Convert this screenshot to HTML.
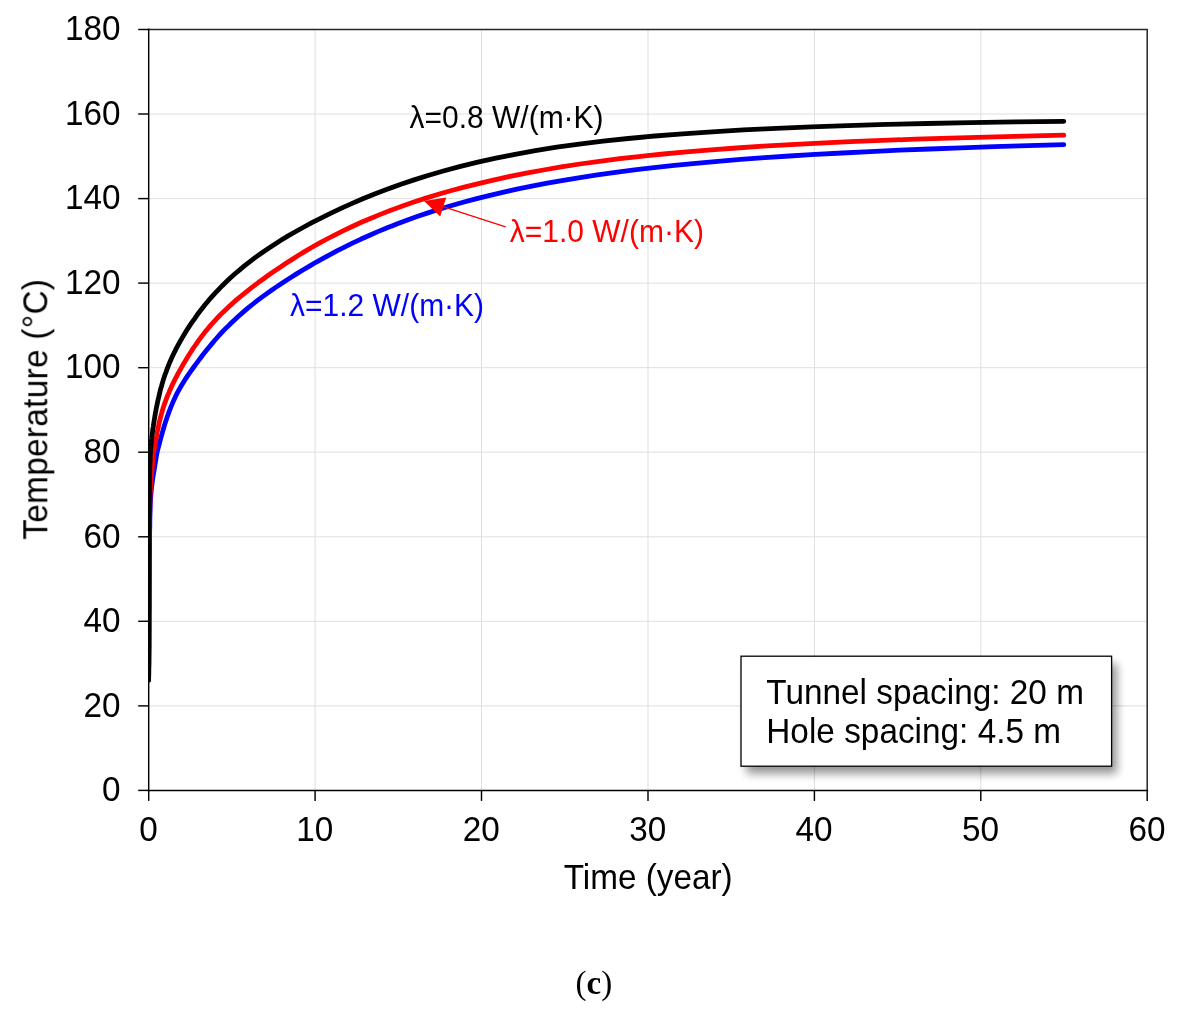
<!DOCTYPE html>
<html><head><meta charset="utf-8"><title>chart</title>
<style>
html,body{margin:0;padding:0;background:#fff;}
svg{display:block;}
text{font-family:"Liberation Sans",sans-serif;}
.t{font-size:33.3px;fill:#000;}
.l{font-size:30px;}
.cap{font-family:"Liberation Serif",serif;font-size:33px;fill:#000;}
</style></head><body>
<svg width="1187" height="1010" viewBox="0 0 1187 1010">
<defs><clipPath id="cp"><rect x="147.95" y="20" width="1010" height="780"/></clipPath><filter id="sh" x="-10%" y="-30%" width="120%" height="160%"><feGaussianBlur stdDeviation="5"/></filter></defs>
<rect width="1187" height="1010" fill="#fff"/>
<g opacity="0.999">
<g stroke="#dfdfdf" stroke-width="1" fill="none">
<line x1="148.7" x2="1147.2" y1="705.9" y2="705.9"/>
<line x1="148.7" x2="1147.2" y1="621.3" y2="621.3"/>
<line x1="148.7" x2="1147.2" y1="536.8" y2="536.8"/>
<line x1="148.7" x2="1147.2" y1="452.2" y2="452.2"/>
<line x1="148.7" x2="1147.2" y1="367.7" y2="367.7"/>
<line x1="148.7" x2="1147.2" y1="283.1" y2="283.1"/>
<line x1="148.7" x2="1147.2" y1="198.6" y2="198.6"/>
<line x1="148.7" x2="1147.2" y1="114.0" y2="114.0"/>
<line y1="29.5" y2="790.4" x1="315.1" x2="315.1"/>
<line y1="29.5" y2="790.4" x1="481.5" x2="481.5"/>
<line y1="29.5" y2="790.4" x1="648.0" x2="648.0"/>
<line y1="29.5" y2="790.4" x1="814.4" x2="814.4"/>
<line y1="29.5" y2="790.4" x1="980.8" x2="980.8"/>
</g>
<path d="M148.7 29.5 H1147.2 V790.4" stroke="#262626" stroke-width="1.5" fill="none"/>
<g stroke="#000" stroke-width="1.45" fill="none">
<line x1="148.7" x2="148.7" y1="28.5" y2="791.4"/>
<line x1="147.7" x2="1148.2" y1="790.4" y2="790.4"/>
<line x1="138.2" x2="148.7" y1="790.4" y2="790.4"/>
<line x1="138.2" x2="148.7" y1="705.9" y2="705.9"/>
<line x1="138.2" x2="148.7" y1="621.3" y2="621.3"/>
<line x1="138.2" x2="148.7" y1="536.8" y2="536.8"/>
<line x1="138.2" x2="148.7" y1="452.2" y2="452.2"/>
<line x1="138.2" x2="148.7" y1="367.7" y2="367.7"/>
<line x1="138.2" x2="148.7" y1="283.1" y2="283.1"/>
<line x1="138.2" x2="148.7" y1="198.6" y2="198.6"/>
<line x1="138.2" x2="148.7" y1="114.0" y2="114.0"/>
<line x1="138.2" x2="148.7" y1="29.5" y2="29.5"/>
<line y1="790.4" y2="800.9" x1="148.7" x2="148.7"/>
<line y1="790.4" y2="800.9" x1="315.1" x2="315.1"/>
<line y1="790.4" y2="800.9" x1="481.5" x2="481.5"/>
<line y1="790.4" y2="800.9" x1="648.0" x2="648.0"/>
<line y1="790.4" y2="800.9" x1="814.4" x2="814.4"/>
<line y1="790.4" y2="800.9" x1="980.8" x2="980.8"/>
<line y1="790.4" y2="800.9" x1="1147.2" x2="1147.2"/>
</g>
<text class="t" transform="translate(120.5 801.1) scale(1 1.035)" text-anchor="end">0</text>
<text class="t" transform="translate(120.5 716.6) scale(1 1.035)" text-anchor="end">20</text>
<text class="t" transform="translate(120.5 632.0) scale(1 1.035)" text-anchor="end">40</text>
<text class="t" transform="translate(120.5 547.5) scale(1 1.035)" text-anchor="end">60</text>
<text class="t" transform="translate(120.5 462.9) scale(1 1.035)" text-anchor="end">80</text>
<text class="t" transform="translate(120.5 378.4) scale(1 1.035)" text-anchor="end">100</text>
<text class="t" transform="translate(120.5 293.8) scale(1 1.035)" text-anchor="end">120</text>
<text class="t" transform="translate(120.5 209.3) scale(1 1.035)" text-anchor="end">140</text>
<text class="t" transform="translate(120.5 124.7) scale(1 1.035)" text-anchor="end">160</text>
<text class="t" transform="translate(120.5 40.2) scale(1 1.035)" text-anchor="end">180</text>
<text class="t" transform="translate(148.4 841) scale(1 1.035)" text-anchor="middle">0</text>
<text class="t" transform="translate(314.8 841) scale(1 1.035)" text-anchor="middle">10</text>
<text class="t" transform="translate(481.2 841) scale(1 1.035)" text-anchor="middle">20</text>
<text class="t" transform="translate(647.7 841) scale(1 1.035)" text-anchor="middle">30</text>
<text class="t" transform="translate(814.1 841) scale(1 1.035)" text-anchor="middle">40</text>
<text class="t" transform="translate(980.5 841) scale(1 1.035)" text-anchor="middle">50</text>
<text class="t" transform="translate(1146.9 841) scale(1 1.035)" text-anchor="middle">60</text>
<text class="t" transform="translate(648.2 889.2) scale(1 1.035)" text-anchor="middle">Time (year)</text>
<text class="t" transform="translate(47.4 409.2) rotate(-90) scale(1 1.035)" text-anchor="middle" letter-spacing="0.33">Temperature (°C)</text>
<polyline clip-path="url(#cp)" points="148.6,680.3 148.7,676.4 148.7,672.6 148.7,668.7 148.8,664.8 148.8,661.0 148.9,657.1 148.9,653.2 148.9,649.4 149.0,645.5 149.0,641.7 149.0,637.8 149.0,633.9 149.1,630.1 149.1,626.2 149.1,622.3 149.1,618.5 149.1,614.6 149.2,610.7 149.2,606.9 149.2,603.0 149.2,599.1 149.2,595.3 149.2,591.4 149.2,587.6 149.3,583.7 149.3,579.8 149.3,576.0 149.3,572.1 149.4,568.2 149.4,564.4 149.4,560.5 149.4,556.6 149.5,552.8 149.5,548.9 149.5,545.0 149.6,541.2 149.6,537.3 149.6,533.5 149.7,529.6 149.8,525.7 149.8,521.9 149.9,518.0 150.0,514.1 150.1,510.3 150.2,506.4 150.4,502.5 150.6,498.7 150.9,494.8 151.2,490.9 151.6,487.1 152.1,483.2 152.6,479.4 153.2,475.5 153.9,471.6 154.5,467.8 155.1,463.9 155.8,460.0 156.4,456.2 157.1,452.3 157.4,450.9 157.8,449.5 158.2,448.0 158.6,446.4 159.1,444.8 159.5,443.1 159.9,441.4 160.4,439.6 160.9,437.7 161.4,435.9 162.0,433.9 162.5,432.0 163.1,430.0 163.7,428.0 164.3,425.9 164.9,423.9 165.6,421.8 166.3,419.7 167.0,417.6 167.7,415.5 168.5,413.4 169.2,411.3 170.1,409.1 170.9,407.0 171.8,404.9 172.7,402.7 173.6,400.6 174.6,398.4 175.6,396.3 176.6,394.2 177.7,392.1 178.9,390.0 180.1,387.9 181.3,385.8 182.6,383.6 183.9,381.5 185.3,379.3 186.7,377.1 188.2,374.9 189.8,372.7 191.4,370.4 193.1,368.0 194.8,365.6 196.7,363.1 198.5,360.6 200.5,358.0 202.5,355.3 204.7,352.6 206.9,349.8 209.2,347.0 211.6,344.1 214.0,341.2 216.6,338.2 219.3,335.2 222.1,332.2 225.0,329.2 228.1,326.1 231.2,323.0 234.5,319.9 237.9,316.7 241.5,313.6 245.2,310.4 249.0,307.2 253.0,304.0 257.2,300.7 261.6,297.4 266.1,294.1 270.8,290.8 275.7,287.4 280.8,283.9 286.1,280.5 291.6,277.0 297.3,273.4 303.3,269.8 309.5,266.1 315.9,262.3 322.6,258.6 329.6,254.8 336.9,250.9 344.5,247.1 352.4,243.2 360.6,239.3 369.1,235.5 377.9,231.6 387.2,227.8 396.8,224.0 406.8,220.2 417.1,216.5 428.0,212.9 439.2,209.3 450.9,205.8 463.1,202.3 475.8,198.9 488.9,195.6 502.7,192.4 516.9,189.2 531.8,186.2 547.2,183.2 563.3,180.3 580.0,177.6 597.4,174.9 615.5,172.3 634.4,169.9 654.0,167.6 674.4,165.4 695.6,163.3 717.7,161.3 740.6,159.4 764.6,157.7 789.4,156.0 815.3,154.4 842.2,153.0 870.2,151.6 899.4,150.2 929.7,149.0 961.3,147.8 994.1,146.7 1028.3,145.7 1063.8,144.7" fill="none" stroke="#0000ff" stroke-width="4.8" stroke-linecap="round" stroke-linejoin="round"/>
<polyline clip-path="url(#cp)" points="148.6,680.3 148.6,676.4 148.7,672.6 148.7,668.7 148.8,664.8 148.8,661.0 148.8,657.1 148.9,653.2 148.9,649.4 148.9,645.5 148.9,641.7 149.0,637.8 149.0,633.9 149.0,630.1 149.0,626.2 149.0,622.3 149.1,618.5 149.1,614.6 149.1,610.7 149.1,606.9 149.1,603.0 149.1,599.1 149.1,595.3 149.2,591.4 149.2,587.6 149.2,583.7 149.2,579.8 149.2,576.0 149.2,572.1 149.2,568.2 149.3,564.4 149.3,560.5 149.3,556.6 149.3,552.8 149.3,548.9 149.3,545.0 149.4,541.2 149.4,537.3 149.4,533.5 149.5,529.6 149.5,525.7 149.5,521.9 149.6,518.0 149.6,514.1 149.7,510.3 149.8,506.4 149.9,502.6 150.0,498.7 150.1,494.8 150.3,491.0 150.5,487.1 150.8,483.2 151.1,479.4 151.4,475.5 151.8,471.6 152.2,467.8 152.6,463.9 152.9,460.0 153.3,456.2 153.6,452.3 153.8,451.3 154.1,450.2 154.3,448.8 154.6,447.4 154.9,445.7 155.2,444.0 155.5,442.1 155.8,440.2 156.2,438.2 156.6,436.1 156.9,434.0 157.3,431.9 157.7,429.7 158.2,427.6 158.6,425.5 159.1,423.4 159.5,421.3 160.0,419.3 160.5,417.3 161.1,415.3 161.6,413.4 162.1,411.4 162.7,409.5 163.3,407.5 163.9,405.6 164.6,403.7 165.3,401.8 166.0,399.8 166.7,397.9 167.5,395.9 168.3,393.9 169.2,391.9 170.0,389.9 171.0,387.8 171.9,385.7 172.9,383.6 174.0,381.4 175.1,379.2 176.3,377.0 177.5,374.7 178.7,372.4 180.1,370.0 181.4,367.6 182.8,365.1 184.3,362.5 185.9,359.9 187.5,357.2 189.2,354.5 191.0,351.7 192.8,348.9 194.8,346.0 196.8,343.1 198.9,340.1 201.1,337.1 203.4,334.1 205.8,331.1 208.4,328.0 211.0,324.9 213.8,321.8 216.7,318.7 219.7,315.5 222.8,312.4 226.2,309.2 229.6,306.0 233.2,302.7 237.0,299.4 241.0,296.1 245.1,292.8 249.4,289.3 253.9,285.9 258.6,282.3 263.6,278.7 268.7,275.0 274.1,271.3 279.8,267.4 285.6,263.5 291.8,259.6 298.2,255.5 305.0,251.4 312.0,247.3 319.3,243.2 327.0,239.0 335.1,234.8 343.5,230.7 352.2,226.5 361.4,222.3 371.0,218.2 381.0,214.1 391.5,210.0 402.5,206.0 413.9,202.0 425.9,198.1 438.4,194.3 451.5,190.5 465.2,186.9 479.5,183.3 494.4,179.8 510.0,176.4 526.3,173.1 543.4,170.0 561.2,166.9 579.9,164.0 599.4,161.3 619.8,158.7 641.1,156.3 663.4,154.0 686.6,151.8 711.0,149.8 736.4,148.0 763.0,146.2 790.8,144.6 819.9,143.1 850.3,141.7 882.1,140.4 915.3,139.2 950.0,138.1 986.2,137.1 1024.2,136.1 1063.8,135.2" fill="none" stroke="#ff0000" stroke-width="4.8" stroke-linecap="round" stroke-linejoin="round"/>
<polyline clip-path="url(#cp)" points="148.6,680.3 148.6,676.4 148.7,672.6 148.7,668.7 148.8,664.8 148.8,661.0 148.8,657.1 148.8,653.2 148.9,649.4 148.9,645.5 148.9,641.7 148.9,637.8 148.9,633.9 148.9,630.1 148.9,626.2 148.9,622.3 148.9,618.5 148.9,614.6 148.9,610.7 149.0,606.9 149.0,603.0 149.0,599.1 149.0,595.3 149.0,591.4 149.0,587.5 149.0,583.7 149.0,579.8 149.0,576.0 149.0,572.1 149.0,568.2 149.0,564.4 149.0,560.5 149.0,556.6 149.1,552.8 149.1,548.9 149.1,545.0 149.1,541.2 149.1,537.3 149.1,533.5 149.1,529.6 149.2,525.7 149.2,521.9 149.2,518.0 149.3,514.1 149.3,510.3 149.3,506.4 149.3,502.5 149.4,498.7 149.4,494.8 149.4,490.9 149.4,487.1 149.5,483.2 149.5,479.4 149.6,475.5 149.7,471.6 149.8,467.8 149.9,463.9 150.1,460.0 150.2,456.2 150.4,452.3 150.5,451.0 150.6,449.7 150.7,448.4 150.9,447.0 151.0,445.6 151.1,444.2 151.3,442.7 151.4,441.2 151.6,439.8 151.8,438.2 151.9,436.7 152.1,435.1 152.3,433.5 152.5,431.9 152.7,430.3 152.9,428.7 153.2,427.1 153.4,425.4 153.7,423.7 154.0,422.0 154.2,420.3 154.5,418.6 154.8,416.8 155.1,415.0 155.4,413.1 155.8,411.3 156.1,409.4 156.5,407.4 156.9,405.5 157.3,403.5 157.7,401.4 158.2,399.4 158.7,397.2 159.2,395.1 159.7,392.9 160.2,390.7 160.8,388.4 161.5,386.2 162.1,383.9 162.8,381.6 163.5,379.2 164.3,376.8 165.1,374.4 166.0,372.1 166.9,369.6 167.8,367.2 168.8,364.7 169.8,362.2 170.9,359.7 172.1,357.1 173.3,354.5 174.6,351.9 175.9,349.2 177.4,346.4 178.9,343.6 180.5,340.8 182.2,337.9 183.9,334.9 185.8,331.8 187.8,328.6 189.9,325.4 192.1,322.1 194.5,318.8 196.9,315.3 199.5,311.8 202.3,308.2 205.2,304.6 208.2,300.9 211.5,297.2 214.9,293.4 218.5,289.6 222.3,285.7 226.3,281.8 230.5,277.8 235.0,273.8 239.7,269.8 244.7,265.7 249.9,261.6 255.4,257.4 261.3,253.2 267.5,249.0 274.0,244.7 280.9,240.3 288.1,235.9 295.8,231.5 303.9,227.0 312.4,222.4 321.5,217.8 331.0,213.1 341.0,208.4 351.6,203.6 362.8,198.8 374.6,194.0 387.1,189.3 400.2,184.5 414.1,179.9 428.8,175.3 444.2,170.8 460.5,166.4 477.8,162.2 495.9,158.2 515.1,154.3 535.3,150.7 556.7,147.2 579.2,144.1 603.0,141.2 628.2,138.5 654.7,136.0 682.7,133.8 712.2,131.8 743.4,129.9 776.3,128.3 811.0,126.8 847.7,125.6 886.4,124.4 927.2,123.5 970.3,122.6 1015.8,121.9 1063.8,121.3" fill="none" stroke="#000000" stroke-width="4.8" stroke-linecap="round" stroke-linejoin="round"/>
<line x1="505.6" y1="226.8" x2="440" y2="205.6" stroke="#ff0000" stroke-width="1.4"/>
<polygon points="424.0,201.0 446.2,197.4 440.2,216.4" fill="#ff0000"/>
<text class="l" transform="translate(409.5 127.6) scale(1 1.035)" fill="#000">λ=0.8 W/(m·K)</text>
<text class="l" transform="translate(509.8 241.8) scale(1 1.035)" fill="#ff0000">λ=1.0 W/(m·K)</text>
<text class="l" transform="translate(290 315.6) scale(1 1.035)" fill="#0000ff">λ=1.2 W/(m·K)</text>
<rect x="746.4" y="663.6" width="370.6" height="110" fill="#000" opacity="0.43" filter="url(#sh)"/>
<rect x="741" y="656.2" width="370.6" height="110" fill="#fff" stroke="#000" stroke-width="1.3"/>
<text class="t" transform="translate(766.3 704.2) scale(1 1.035)" letter-spacing="0.03">Tunnel spacing: 20 m</text>
<text class="t" transform="translate(766.3 743) scale(1 1.035)" letter-spacing="0.03">Hole spacing: 4.5 m</text>
<text class="cap" x="575.6" y="993.9">(<tspan font-weight="bold">c</tspan>)</text>
</g></svg></body></html>
